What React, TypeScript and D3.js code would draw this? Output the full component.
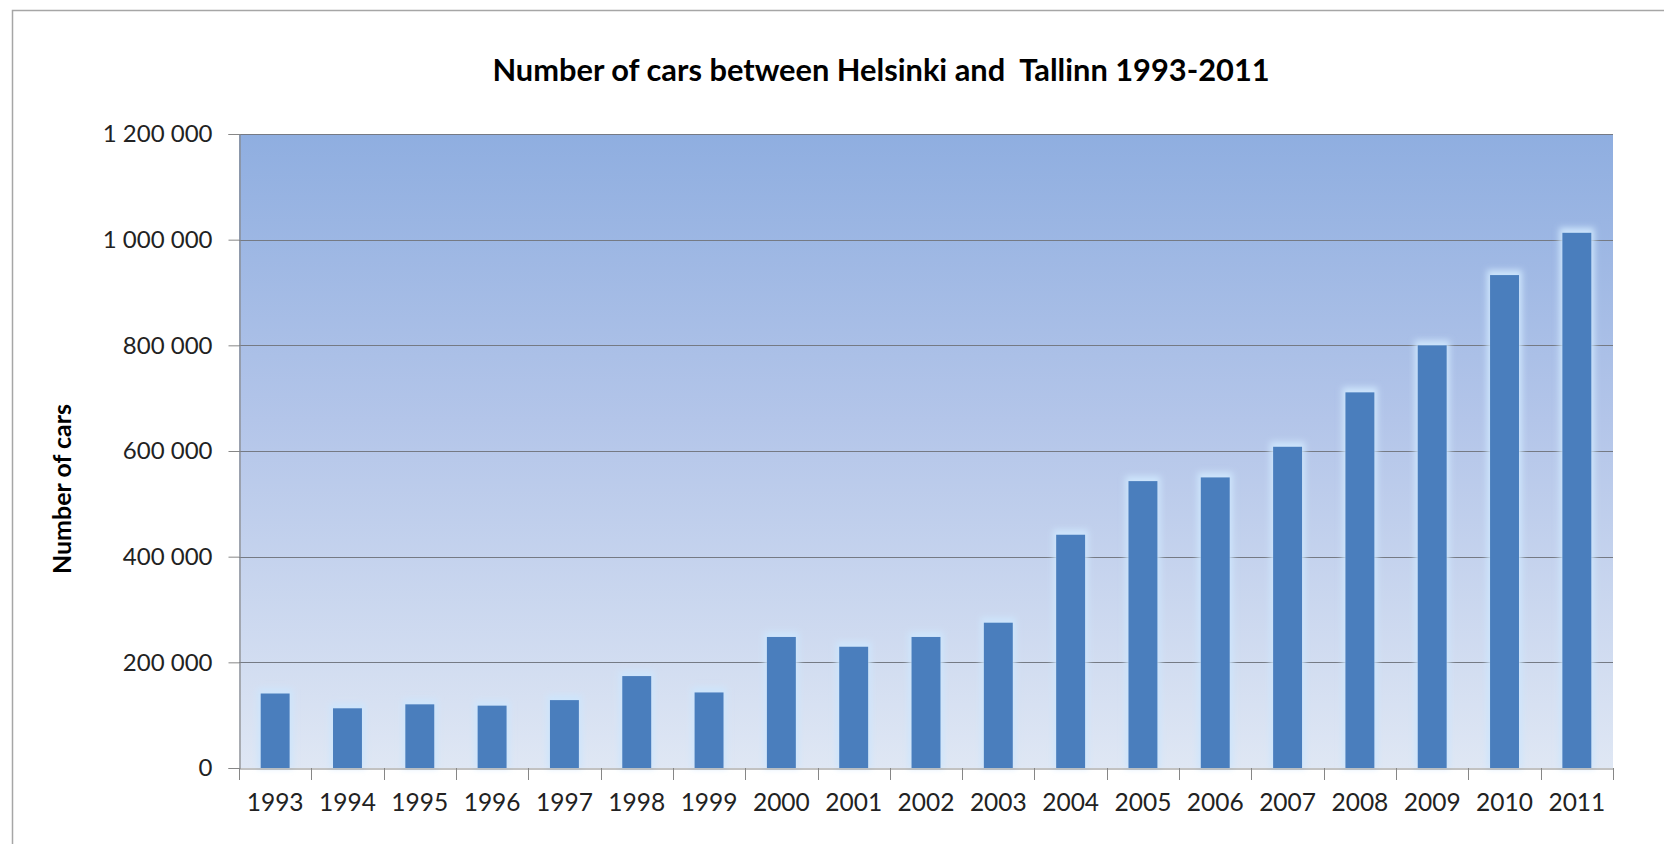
import React, { useEffect, useRef } from 'react';
import * as d3 from 'd3';

const years: string[] = [
  '1993', '1994', '1995', '1996', '1997', '1998', '1999', '2000', '2001', '2002',
  '2003', '2004', '2005', '2006', '2007', '2008', '2009', '2010', '2011',
];

const cars: number[] = [
  141000, 113000, 120500, 118000, 128500, 174000, 143000, 248000, 229500, 248000,
  275000, 441500, 543000, 550000, 608000, 711000, 800000, 933000, 1013000,
];

const yTicks: number[] = [0, 200000, 400000, 600000, 800000, 1000000, 1200000];

const title = 'Number of cars between Helsinki and  Tallinn 1993-2011';
const yTitle = 'Number of cars';

const W = 1664;
const H = 844;
const margin = { left: 239, right: 51, top: 134, bottom: 76 };
const FONT = 'Lato, "Open Sans", sans-serif';

const fmt = (v: number) => d3.format(',')(v).replace(/,/g, ' ');

const Chart = () => {
  const ref = useRef<SVGSVGElement | null>(null);

  useEffect(() => {
    const svg = d3.select(ref.current);
    svg.selectAll('*').remove();

    const x0 = margin.left;
    const x1 = W - margin.right;
    const y0 = H - margin.bottom;
    const y1 = margin.top;

    const x = d3.scaleBand<string>().domain(years).range([x0, x1]).paddingInner(0.6).paddingOuter(0.3);
    const band = d3.scaleBand<string>().domain(years).range([x0, x1]).padding(0);
    const y = d3.scaleLinear().domain([0, 1200000]).range([y0, y1]);

    const defs = svg.append('defs');
    const grad = defs
      .append('linearGradient')
      .attr('id', 'bg')
      .attr('x1', 0)
      .attr('y1', 0)
      .attr('x2', 0)
      .attr('y2', 1);
    grad.append('stop').attr('offset', '0%').attr('stop-color', '#8faee0');
    grad.append('stop').attr('offset', '45%').attr('stop-color', '#b3c5e9');
    grad.append('stop').attr('offset', '100%').attr('stop-color', '#dfe7f4');

    const glow = defs.append('filter').attr('id', 'glow').attr('x', '-50%').attr('y', '-50%').attr('width', '200%').attr('height', '200%');
    glow.append('feGaussianBlur').attr('stdDeviation', 3);

    // page background and outer chart frame
    svg.append('rect').attr('width', W).attr('height', H).attr('fill', '#ffffff');
    svg
      .append('rect')
      .attr('x', 12.5)
      .attr('y', 10.5)
      .attr('width', W + 40)
      .attr('height', H + 40)
      .attr('fill', 'none')
      .attr('stroke', '#a6a6a6')
      .attr('stroke-width', 1.5);

    // plot area
    svg
      .append('rect')
      .attr('x', x0)
      .attr('y', y1)
      .attr('width', x1 - x0)
      .attr('height', y0 - y1)
      .attr('fill', 'url(#bg)');

    // gridlines
    svg
      .append('g')
      .selectAll('line')
      .data(yTicks.filter((d) => d > 0))
      .enter()
      .append('line')
      .attr('x1', x0)
      .attr('x2', x1)
      .attr('y1', (d) => Math.round(y(d)) + 0.5)
      .attr('y2', (d) => Math.round(y(d)) + 0.5)
      .attr('stroke', '#757a84')
      .attr('stroke-width', 1.2);

    // bar glow
    svg
      .append('g')
      .attr('filter', 'url(#glow)')
      .selectAll('rect')
      .data(cars)
      .enter()
      .append('rect')
      .attr('x', (d, i) => (x(years[i]) as number) - 3)
      .attr('y', (d) => y(d) - 5)
      .attr('width', x.bandwidth() + 6)
      .attr('height', (d) => y0 - y(d) + 5)
      .attr('fill', '#cde5fc');

    // bars
    svg
      .append('g')
      .selectAll('rect')
      .data(cars)
      .enter()
      .append('rect')
      .attr('x', (d, i) => x(years[i]) as number)
      .attr('y', (d) => y(d))
      .attr('width', x.bandwidth())
      .attr('height', (d) => y0 - y(d))
      .attr('fill', '#4a7ebd');

    // y axis
    const yAxis = d3
      .axisLeft(y)
      .tickValues(yTicks)
      .tickSize(11)
      .tickPadding(16)
      .tickFormat((d) => fmt(d as number));
    const gy = svg.append('g').attr('transform', `translate(${x0 + 0.5},0)`).call(yAxis);
    gy.select('.domain').attr('stroke', '#868686').attr('stroke-width', 1.2);
    gy.selectAll('.tick line').attr('stroke', '#868686');
    gy.selectAll('.tick text')
      .attr('font-family', FONT)
      .attr('font-size', 24)
      .attr('fill', '#222');

    // x axis
    const xAxis = d3.axisBottom(band).tickSize(0).tickPadding(25);
    const gx = svg.append('g').attr('transform', `translate(0,${y0 + 0.5})`).call(xAxis);
    gx.select('.domain').attr('stroke', '#868686').attr('stroke-width', 1.2);
    gx.selectAll('.tick text')
      .attr('font-family', FONT)
      .attr('font-size', 24.5)
      .attr('fill', '#222');

    // category boundary ticks
    const bounds = years.map((yr) => band(yr) as number).concat([x1]);
    svg
      .append('g')
      .selectAll('line')
      .data(bounds)
      .enter()
      .append('line')
      .attr('x1', (d) => Math.round(d) + 0.5)
      .attr('x2', (d) => Math.round(d) + 0.5)
      .attr('y1', y0)
      .attr('y2', y0 + 12)
      .attr('stroke', '#868686');

    // title
    svg
      .append('text')
      .attr('x', 881)
      .attr('y', 81)
      .attr('text-anchor', 'middle')
      .attr('font-family', FONT)
      .attr('font-weight', 'bold')
      .attr('font-size', 30.8)
      .attr('fill', '#000')
      .attr('xml:space', 'preserve')
      .style('white-space', 'pre')
      .text(title);

    // y title
    svg
      .append('text')
      .attr('transform', 'translate(71,489) rotate(-90)')
      .attr('text-anchor', 'middle')
      .attr('font-family', FONT)
      .attr('font-weight', 'bold')
      .attr('font-size', 25)
      .attr('fill', '#000')
      .text(yTitle);
  }, []);

  return <svg ref={ref} width={W} height={H} style={{ position: 'absolute', left: 0, top: 0, display: 'block' }} />;
};

export default function App() {
  return <Chart />;
}
